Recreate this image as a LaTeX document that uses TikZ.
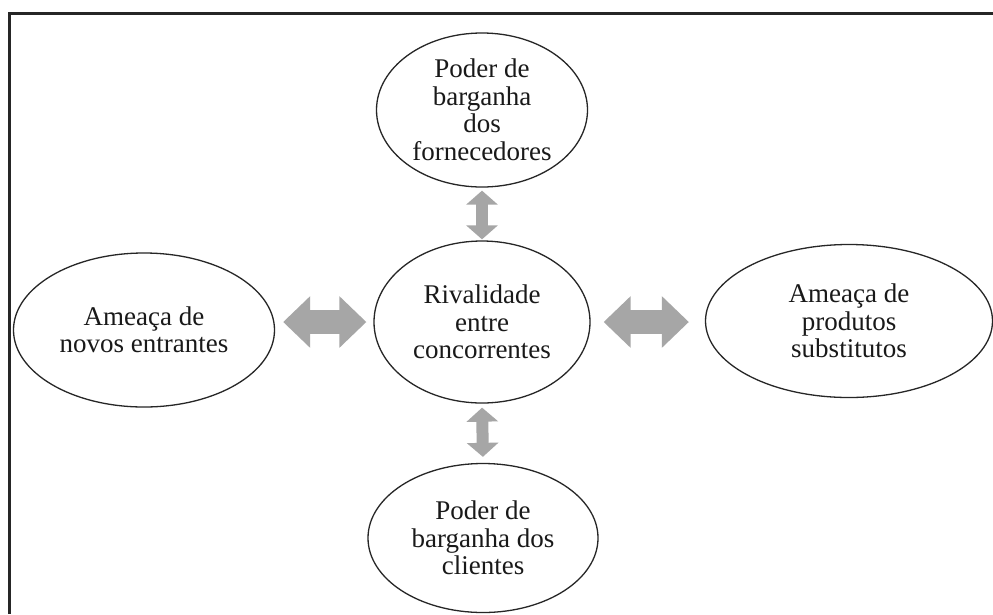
\documentclass[tikz,border=0pt]{standalone}
\usepackage{fontspec}
\setmainfont{Liberation Serif}
\usetikzlibrary{shapes.geometric,arrows.meta}
\definecolor{arrowgray}{HTML}{A6A6A6}
\definecolor{framedark}{HTML}{262626}
\tikzset{
  force/.style={ellipse, draw=black!85, line width=1.3pt, inner sep=0pt,
    align=center, font=\fontsize{27}{27.5}\selectfont, text=black!90},
  hdouble/.style={draw=arrowgray, line width=24pt,
    {Triangle[length=27pt,width=50pt]}-{Triangle[length=27pt,width=50pt]}},
  vdouble/.style={draw=arrowgray, line width=12pt,
    {Triangle[length=14pt,width=31pt]}-{Triangle[length=14pt,width=31pt]}}
}
\begin{document}
\begin{tikzpicture}[x=1pt,y=-1pt]
\useasboundingbox (0,0) rectangle (993,614);
\fill[white] (0,0) rectangle (993,614);
% frame
\draw[framedark, line width=3pt] (9,614) -- (9,13) -- (995,13);
% nodes
\node[force, minimum width=211pt, minimum height=154pt] (sup) at (482,110)
  {Poder de\\barganha\\dos\\fornecedores};
\node[force, minimum width=216pt, minimum height=162pt] (riv) at (482,322)
  {Rivalidade\\entre\\concorrentes};
\node[force, minimum width=261pt, minimum height=154pt] (new) at (144,330)
  {Ameaça de\\novos entrantes};
\node[force, minimum width=287pt, minimum height=153pt] (sub) at (849,321)
  {Ameaça de\\produtos\\substitutos};
\node[force, minimum width=230pt, minimum height=149pt] (cli) at (483,538)
  {Poder de\\barganha dos\\clientes};
% arrows
\draw[vdouble, shorten <=3pt, shorten >=1pt] (sup.south) -- (riv.north);
\draw[vdouble, shorten <=4pt, shorten >=6pt] (riv.south) -- (cli.north);
\draw[hdouble, shorten <=8pt, shorten >=7pt] (new.east |- riv.west) -- (riv.west);
\draw[hdouble, shorten <=13pt, shorten >=16pt] (riv.east) -- (sub.west |- riv.east);
\end{tikzpicture}
\end{document}
